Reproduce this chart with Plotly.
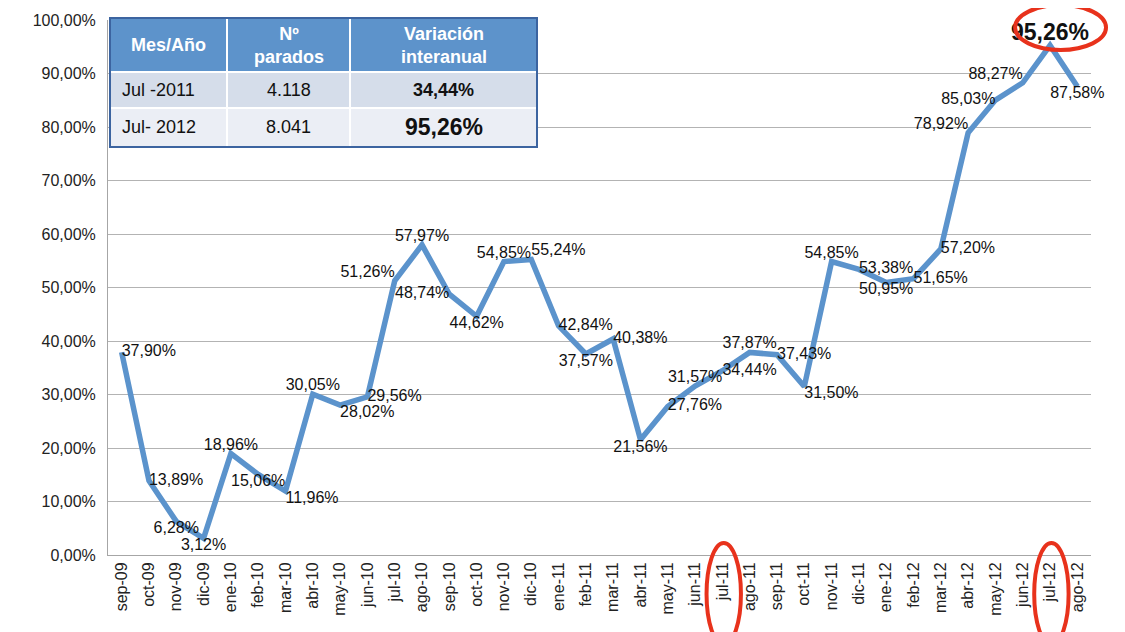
import plotly.graph_objects as go

months = ["sep-09","oct-09","nov-09","dic-09","ene-10","feb-10","mar-10","abr-10","may-10","jun-10",
          "jul-10","ago-10","sep-10","oct-10","nov-10","dic-10","ene-11","feb-11","mar-11","abr-11",
          "may-11","jun-11","jul-11","ago-11","sep-11","oct-11","nov-11","dic-11","ene-12","feb-12",
          "mar-12","abr-12","may-12","jun-12","jul-12","ago-12"]
variacion = [37.90,13.89,6.28,3.12,18.96,15.06,11.96,30.05,28.02,29.56,
             51.26,57.97,48.74,44.62,54.85,55.24,42.84,37.57,40.38,21.56,
             27.76,31.57,34.44,37.87,37.43,31.50,54.85,53.38,50.95,51.65,
             57.20,78.92,85.03,88.27,95.26,87.58]
label_pos = ["middle right","middle right","bottom center","bottom center","top center","bottom center",
             "bottom right","top center","bottom right","middle right","top left","top center",
             "middle left","bottom center","top center","top right","middle right","bottom center",
             "middle right","bottom center","middle right","top center","middle right","top center",
             "middle right","bottom right","top center","middle right","bottom center","middle right",
             "middle right","top left","middle left","top left","top center","bottom center"]

table_header = ["Mes/Año", "Nº<br>parados", "Variación<br>interanual"]
table_mes = ["Jul -2011", "Jul- 2012"]
table_parados = ["4.118", "8.041"]
table_var = ["34,44%", "95,26%"]

highlight = ["jul-11", "jul-12"]
peak = "jul-12"

def fmt(v):
    return f"{v:.2f}".replace(".", ",") + "%"

texts = []
sizes = []
for m, v in zip(months, variacion):
    if m == peak:
        texts.append("<b>" + fmt(v) + "</b>")
        sizes.append(23)
    else:
        texts.append(fmt(v))
        sizes.append(16)

font = "Liberation Sans, Arial"

fig = go.Figure()
fig.add_trace(go.Scatter(
    x=months, y=variacion, mode="lines+text",
    line=dict(color="#5B93CC", width=5.5),
    text=texts, texttemplate="%{text}", textposition=label_pos,
    textfont=dict(family=font, size=sizes, color="#111111"),
    cliponaxis=False, showlegend=False, hoverinfo="skip"))

# page body adds an 8px offset; plot area targets page px: left 108, right 1091, top 20, bottom 555
OFF = 8
L, R, T, B = 108, 1091, 20, 555
fig.update_layout(
    width=1125, height=632,
    margin=dict(l=L - OFF, r=1125 - (R - OFF), t=T - OFF, b=632 - (B - OFF)),
    paper_bgcolor="white", plot_bgcolor="white",
    separators=",.",
    font=dict(family=font, size=16, color="#222222"),
    xaxis=dict(type="category", tickangle=-90, showgrid=False, showline=True, automargin=False,
               linecolor="#A6A6A6", linewidth=1, ticks="", tickfont=dict(size=16),
               range=[-0.5, len(months) - 0.5]),
    yaxis=dict(range=[0, 100], dtick=10, tickformat=".2f", ticksuffix="%", automargin=False,
               showgrid=True, gridcolor="#B3B3B3", gridwidth=1, showline=True,
               linecolor="#A6A6A6", linewidth=1, zeroline=False, ticks="",
               ticklabelstandoff=8, tickfont=dict(size=16)),
)

# ---- table drawn with shapes and annotations (paper coordinates, page px mapping)
def px(x):
    return (x - L) / (R - L)
def py(y):
    return (B - y) / (B - T)

tx0, tx1 = 110, 537
cols = [110, 227, 350, 537]
rows = [18, 72, 108, 147]
fills = ["#5D93CB", "#D5DDEA", "#EBEEF5"]
for r in range(3):
    fig.add_shape(type="rect", xref="paper", yref="paper",
                  x0=px(tx0), x1=px(tx1), y0=py(rows[r + 1]), y1=py(rows[r]),
                  fillcolor=fills[r], line=dict(width=0), layer="above")
for c in cols[1:-1]:
    fig.add_shape(type="line", xref="paper", yref="paper", x0=px(c), x1=px(c),
                  y0=py(rows[-1]), y1=py(rows[0]), line=dict(color="white", width=2), layer="above")
for r in rows[1:-1]:
    fig.add_shape(type="line", xref="paper", yref="paper", x0=px(tx0), x1=px(tx1),
                  y0=py(r), y1=py(r), line=dict(color="white", width=2), layer="above")
fig.add_shape(type="rect", xref="paper", yref="paper", x0=px(tx0), x1=px(tx1),
              y0=py(rows[-1]), y1=py(rows[0]), line=dict(color="#3C64A0", width=2), layer="above")

for i, h in enumerate(table_header):
    fig.add_annotation(xref="paper", yref="paper", x=px((cols[i] + cols[i + 1]) / 2),
                       y=py((rows[0] + rows[1]) / 2), text="<b>" + h + "</b>", showarrow=False,
                       font=dict(family=font, size=18, color="white"), xanchor="center", yanchor="middle")
for j in range(2):
    yc = py((rows[j + 1] + rows[j + 2]) / 2)
    fig.add_annotation(xref="paper", yref="paper", x=px(cols[0] + 10), y=yc, text=table_mes[j],
                       showarrow=False, font=dict(family=font, size=18, color="#111111"),
                       xanchor="left", yanchor="middle")
    fig.add_annotation(xref="paper", yref="paper", x=px((cols[1] + cols[2]) / 2), y=yc,
                       text=table_parados[j], showarrow=False,
                       font=dict(family=font, size=18, color="#111111"), xanchor="center", yanchor="middle")
    fig.add_annotation(xref="paper", yref="paper", x=px((cols[2] + cols[3]) / 2), y=yc,
                       text="<b>" + table_var[j] + "</b>", showarrow=False,
                       font=dict(family=font, size=18 if j == 0 else 23, color="#111111"),
                       xanchor="center", yanchor="middle")

# ---- red ellipses
red = "#E8321C"
n = len(months)
def cat_paper(i):
    return (i + 0.5) / n
for m in highlight:
    i = months.index(m)
    fig.add_shape(type="circle", xref="paper", yref="paper",
                  x0=cat_paper(i - 0.58), x1=cat_paper(i + 0.68),
                  y0=py(645), y1=py(543), line=dict(color=red, width=4), layer="above")
ip = months.index(peak)
fig.add_shape(type="circle", xref="paper", yref="paper",
              x0=cat_paper(ip - 1.28), x1=cat_paper(ip + 2.05),
              y0=py(50), y1=py(5), line=dict(color=red, width=4), layer="above")

fig.write_html("out.html")
